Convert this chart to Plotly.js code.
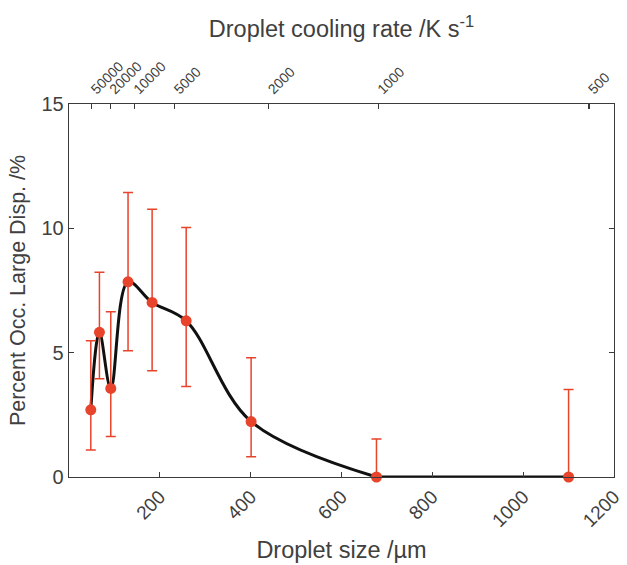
<!DOCTYPE html>
<html>
<head>
<meta charset="utf-8">
<script src="https://cdn.plot.ly/plotly-3.0.1.min.js"></script>
<style>html,body{margin:0;padding:0;background:#fff;}#chart{width:627px;height:565px;}</style>
</head>
<body>
<div id="chart"></div>
<script>
// Droplet size (µm) and percent occurrence of large dispersoids
const dropletSize = [48, 67, 92, 130, 183, 258, 401, 677, 1100];
const percentOcc  = [2.70, 5.82, 3.56, 7.85, 7.02, 6.28, 2.23, 0.0, 0.0];
const errUpper    = [5.48, 8.23, 6.65, 11.44, 10.77, 10.03, 4.80, 1.53, 3.52];
const errLower    = [1.09, 3.95, 1.63, 5.08, 4.27, 3.64, 0.81, 0.0, 0.0];

// Top axis: cooling-rate tick labels and the droplet sizes they correspond to
const coolingRateLabels = ['50000', '20000', '10000', '5000', '2000', '1000', '500'];
const coolingRateAtSize = [50, 91, 144, 233, 440, 681, 1145];

const sizeTicks = [200, 400, 600, 800, 1000, 1200];
const yTicks = [0, 5, 10, 15];

const red = '#e8432b';
const axisCol = '#3a3a3a';
const textCol = '#404040';
const fontFam = 'Liberation Sans, Arial, sans-serif';

const plus = percentOcc.map((v, i) => errUpper[i] - v);
const minus = percentOcc.map((v, i) => v - errLower[i]);

// smooth curve through the points up to the first zero, then the flat zero segment
const lastCurve = percentOcc.indexOf(0);
const traces = [
  {
    x: dropletSize.slice(0, lastCurve + 1), y: percentOcc.slice(0, lastCurve + 1),
    type: 'scatter', mode: 'lines',
    line: {color: '#111', width: 3, shape: 'spline', smoothing: 1},
    hoverinfo: 'skip', showlegend: false
  },
  {
    x: dropletSize.slice(lastCurve), y: percentOcc.slice(lastCurve),
    type: 'scatter', mode: 'lines',
    line: {color: '#111', width: 3},
    hoverinfo: 'skip', showlegend: false, cliponaxis: false
  },
  {
    x: dropletSize, y: percentOcc, type: 'scatter', mode: 'markers',
    marker: {color: red, size: 11},
    error_y: {type: 'data', symmetric: false, array: plus, arrayminus: minus,
              color: red, thickness: 1.5, width: 5},
    showlegend: false, cliponaxis: false
  },
  {
    x: dropletSize, y: percentOcc, xaxis: 'x2', type: 'scatter', mode: 'markers',
    marker: {opacity: 0}, hoverinfo: 'skip', showlegend: false
  }
];

const layout = {
  width: 627, height: 565,
  margin: {l: 68.5, r: 13, t: 104, b: 88, pad: 0},
  paper_bgcolor: '#ffffff', plot_bgcolor: '#ffffff',
  font: {family: fontFam, color: textCol},
  showlegend: false,
  xaxis: {
    range: [0, 1200], tickvals: sizeTicks, ticktext: sizeTicks.map(String),
    tickangle: -45, ticks: 'inside', ticklen: 5, tickcolor: axisCol, tickwidth: 1.2,
    showline: true, linecolor: axisCol, linewidth: 1.3, mirror: false,
    showgrid: false, zeroline: false,
    tickfont: {size: 19, color: textCol},
    title: {text: 'Droplet size /µm', font: {size: 23.5, color: textCol}, standoff: 11},
    automargin: false
  },
  xaxis2: {
    overlaying: 'x', side: 'top', anchor: 'y',
    range: [0, 1200], tickvals: coolingRateAtSize, ticktext: coolingRateLabels,
    tickangle: -45, ticks: 'inside', ticklen: 5, tickcolor: axisCol, tickwidth: 1.2,
    showline: true, linecolor: axisCol, linewidth: 1.3,
    showgrid: false, zeroline: false,
    tickfont: {size: 14, color: textCol},
    title: {text: 'Droplet cooling rate /K s<sup>-1</sup>', font: {size: 23.5, color: textCol}, standoff: 14},
    automargin: false
  },
  yaxis: {
    range: [0, 15], tickvals: yTicks, ticktext: yTicks.map(String),
    ticks: 'inside', ticklen: 5, tickcolor: axisCol, tickwidth: 1.2,
    showline: true, linecolor: axisCol, linewidth: 1.3, mirror: 'ticks',
    showgrid: false, zeroline: false,
    tickfont: {size: 20, color: textCol},
    title: {text: 'Percent Occ. Large Disp. /%', font: {size: 21.5, color: textCol}, standoff: 10},
    automargin: false
  }
};

Plotly.newPlot('chart', traces, layout, {staticPlot: true, displayModeBar: false});
</script>
</body>
</html>
